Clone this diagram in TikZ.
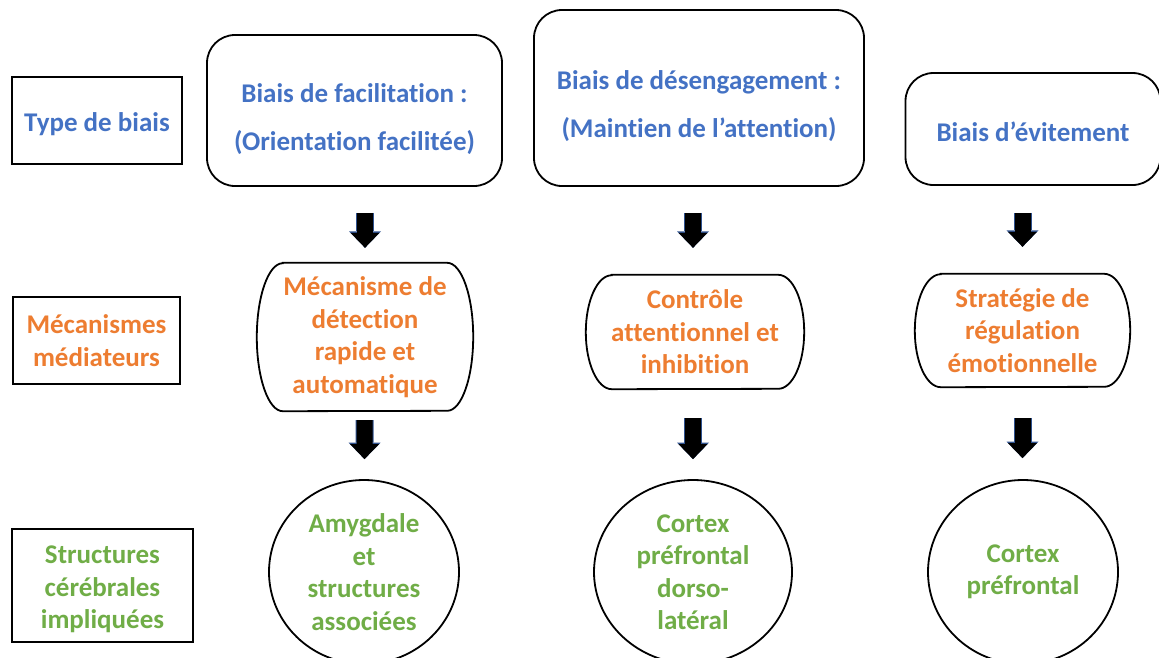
\documentclass[tikz,border=0pt]{standalone}
\usepackage{fontspec}
\setmainfont{Carlito}[Ligatures=NoCommon]
\usetikzlibrary{arrows.meta,shapes.geometric}
\definecolor{bleu}{HTML}{4472C4}
\definecolor{orange}{HTML}{ED7D31}
\definecolor{vert}{HTML}{70AD47}
\definecolor{marine}{HTML}{2F528F}
\tikzset{
    txt/.style={
           align=center, inner sep=0pt,
           font=\bfseries\fontsize{27}{32.5}\selectfont},
    etiq/.style={
           txt, rectangle,
           draw=black, line width=2pt},
    biais/.style={
           txt, rectangle,
           rounded corners=28pt,
           draw=black, line width=1.8pt,
           text=bleu,
           font=\bfseries\fontsize{27}{48}\selectfont},
    meca/.style={
           txt, rectangle,
           text=orange},
    struct/.style={
           txt, ellipse,
           draw=black, line width=1.8pt,
           text=vert},
    fleche/.style={
           line width=16pt, black,
           -{Triangle[width=29pt,length=15pt,line width=0pt]},
           preaction={draw=marine, line width=18pt,
             -{Triangle[width=32pt,length=16.5pt,line width=0pt]}}}
}
% montant pour descendre le texte
\newcommand{\haut}[1]{\rule{0pt}{#1}}
% contour des mecanismes : cotes en demi-ellipses
\newcommand{\bordmeca}[2]{%
  \draw[line width=1.8pt] ([xshift=26pt]#1.north west) -- ([xshift=-26pt]#1.north east)
    arc[start angle=90, end angle=-90, x radius=26pt, y radius=#2]
    -- ([xshift=26pt]#1.south west)
    arc[start angle=270, end angle=90, x radius=26pt, y radius=#2] -- cycle;}
\begin{document}
\begin{tikzpicture}[x=1pt,y=-1pt]
\useasboundingbox (0,0) rectangle (1159,657);
% colonne de gauche
\node[etiq, text=bleu, minimum width=170pt, minimum height=87pt] (type) at (97,120.5) {\haut{26pt}Type de biais};
\node[etiq, text=orange, minimum width=167pt, minimum height=87pt] (medi) at (96.5,340.5) {Mécanismes\\médiateurs};
\node[etiq, text=vert, minimum width=181pt, minimum height=113pt] (cere) at (102.5,585.5) {\haut{26pt}Structures\\cérébrales\\impliquées};
% type de biais
\node[biais, minimum width=295pt, minimum height=151pt] (facil) at (354.5,110.5) {\haut{36pt}Biais de facilitation :\\(Orientation facilitée)};
\node[biais, minimum width=330pt, minimum height=176pt] (deseng) at (699,98) {\haut{35pt}Biais de désengagement :\\(Maintien de l’attention)};
\node[biais, minimum width=255pt, minimum height=112pt] (evit) at (1033,129) {\haut{26pt}Biais d’évitement};
% mecanismes
\node[meca, minimum width=216pt, minimum height=148pt] (detect) at (365,337) {Mécanisme de\\détection\\rapide et\\automatique};
\node[meca, minimum width=218pt, minimum height=114pt] (controle) at (695,332) {Contrôle\\attentionnel et\\inhibition};
\node[meca, minimum width=215pt, minimum height=113pt] (regul) at (1022.5,330.5) {Stratégie de\\régulation\\émotionnelle};
\bordmeca{detect}{74pt}
\bordmeca{controle}{57pt}
\bordmeca{regul}{56.5pt}
% structures
\node[struct, minimum width=190pt, minimum height=184pt] (amyg) at (364,572) {Amygdale\\et\\structures\\associées};
\node[struct, minimum width=198pt, minimum height=184pt] (dlpfc) at (693,572) {Cortex\\préfrontal\\dorso-\\latéral};
\node[struct, minimum width=190pt, minimum height=184pt] (pfc) at (1023,572) {Cortex\\préfrontal};
% fleches
\draw[fleche, shorten <=26pt, shorten >=15pt] (facil.south -| detect.north) -- (detect.north);
\draw[fleche, shorten <=26pt, shorten >=27pt] (deseng.south -| dlpfc.north) -- (dlpfc.north |- controle.north);
\draw[fleche, shorten <=27pt, shorten >=27pt] (evit.south -| regul.north) -- (regul.north);
\draw[fleche, shorten <=9pt, shorten >=20pt] (detect) -- (amyg);
\draw[fleche, shorten <=29pt, shorten >=20pt] (controle.south -| dlpfc.north) -- (dlpfc.north);
\draw[fleche, shorten <=31pt, shorten >=21pt] (regul.south) -- (regul.south |- pfc.north);
\end{tikzpicture}
\end{document}
